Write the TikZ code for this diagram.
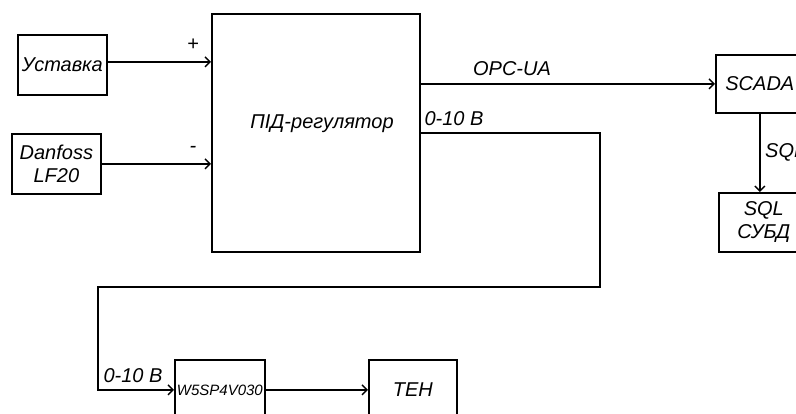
\documentclass[tikz,border=0pt]{standalone}
\usepackage{fontspec}
\setmainfont{Liberation Sans}
\usetikzlibrary{arrows.meta}
\begin{document}
\begin{tikzpicture}[x=1pt,y=-1pt,
  box/.style={draw,line width=1.7pt,inner sep=0pt,anchor=north west,align=center,
    font=\fontsize{20}{23}\selectfont\itshape},
  lbl/.style={inner sep=0pt,font=\fontsize{20}{23}\selectfont\itshape},
  conn/.style={line width=1.7pt,-{Straight Barb[length=5pt,width=10pt,line width=1.4pt]}},
  wire/.style={line width=1.7pt}]
\useasboundingbox (0,0) rectangle (796,414);
\clip (0,0) rectangle (796,414);
% boxes
\node[box,minimum width=89pt,minimum height=60pt] (ust) at (17,34) {Уставка};
\node[box,minimum width=89pt,minimum height=60pt] (dan) at (11,133) {Danfoss\\LF20};
\node[box,minimum width=208pt,minimum height=238pt] (pid) at (211,13) {};
\node[lbl] (pidt) at (322,124) {ПІД-регулятор};
\node[box,minimum width=88pt,minimum height=58pt] (scada) at (715,54) {SCADA};
\node[box,minimum width=90pt,minimum height=59pt] (subd) at (718,192) {SQL\\СУБД};
\node[box,minimum width=90pt,minimum height=60pt,font=\fontsize{15}{17}\selectfont\itshape] (w5) at (174,359) {W5SP4V030};
\node[box,minimum width=88pt,minimum height=60pt] (ten) at (368,359) {ТЕН};
% connectors
\coordinate (ua) at ([yshift=3pt]ust.east);
\draw[conn] (ua) -- (pid.west |- ua);
\draw[conn] (dan.east) -- (pid.west |- dan.east);
\draw[conn] (pid.east |- scada.west) -- (scada.west);
\draw[conn] (scada.south) -- (scada.south |- subd.north);
\coordinate (c1) at (600,133);
\coordinate (c2) at (600,287);
\coordinate (c3) at (98,287);
\draw[conn] (pid.east |- c1) -- (c1) -- (c2) -- (c3) -- (c3 |- w5.west) -- (w5.west);
\draw[conn] (w5.east) -- (ten.west);
% labels
\node[lbl] (plus) at (193,45) {+};
\node[lbl] (minus) at (193,149) {-};
\node[lbl] (opc) at (512,69) {OPC-UA};
\node[lbl] (v1) at (454,119) {0-10 В};
\node[lbl,anchor=west] (sql) at (765,152) {SQL};
\node[lbl] (v2) at (133,376) {0-10 В};
\end{tikzpicture}
\end{document}
